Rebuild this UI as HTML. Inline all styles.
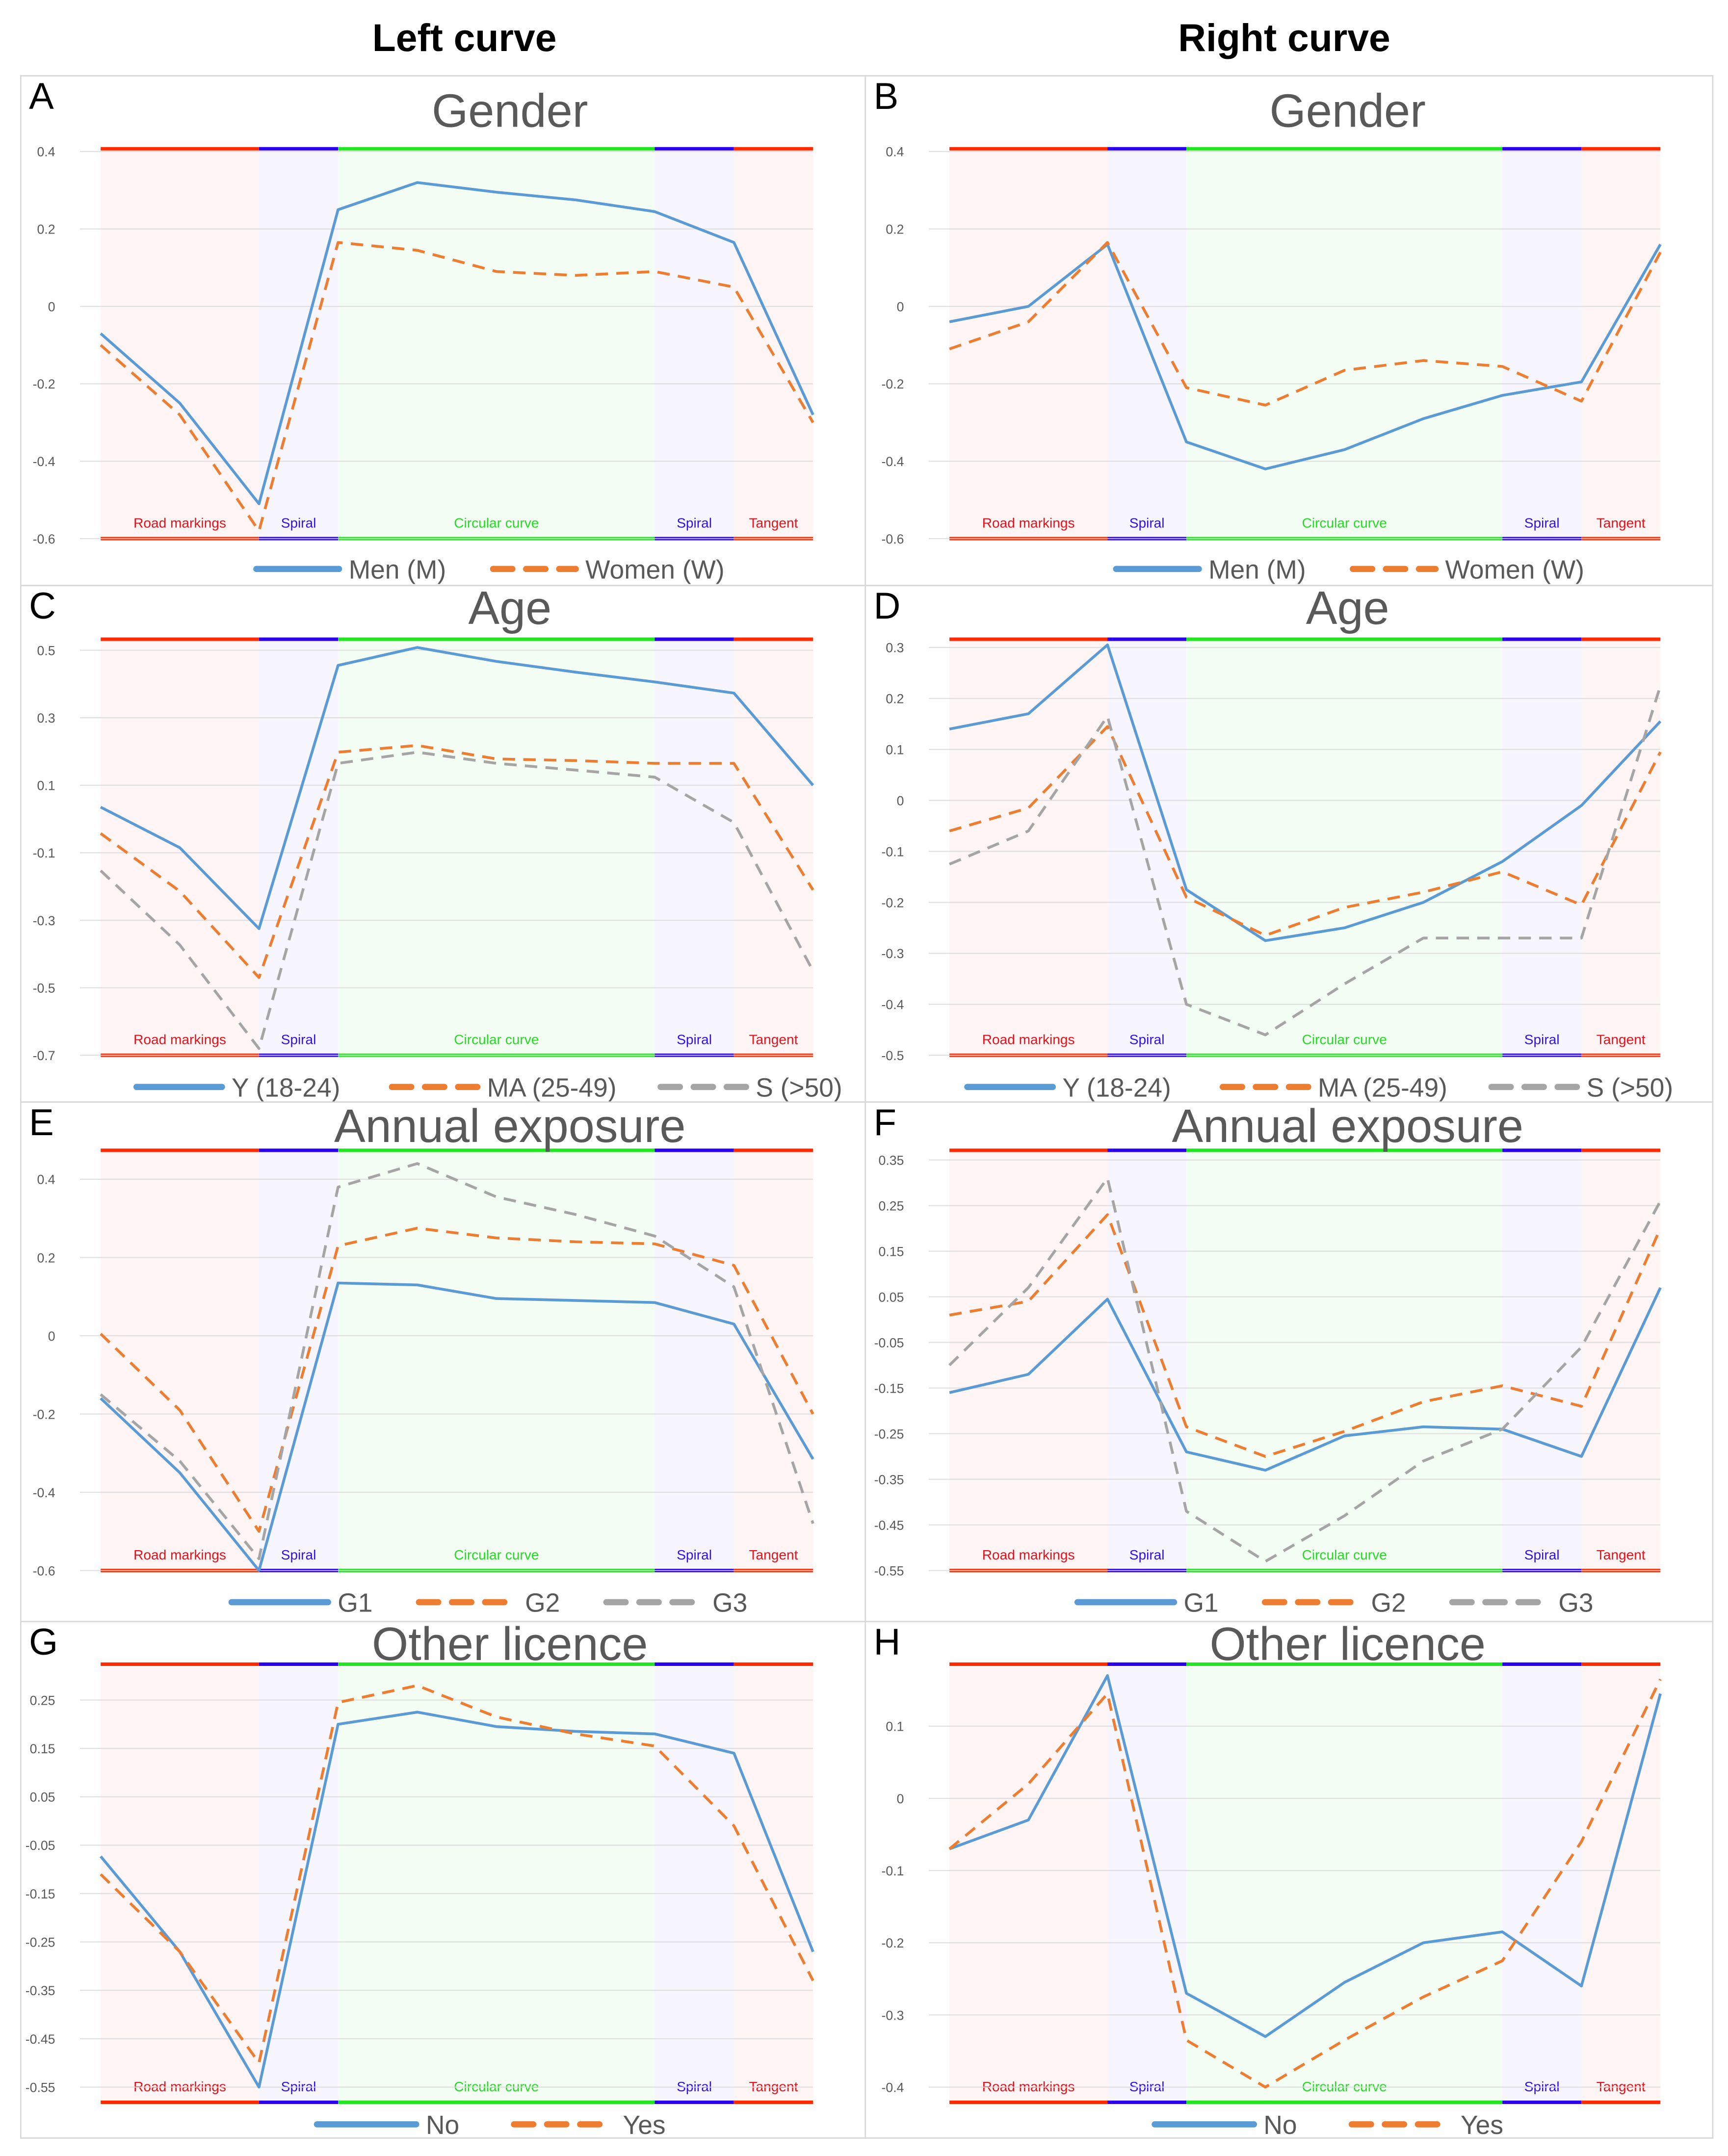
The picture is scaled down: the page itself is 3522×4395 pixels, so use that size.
<!DOCTYPE html>
<html><head><meta charset="utf-8"><style>
html,body{margin:0;padding:0;background:#fff;}
svg{display:block;font-family:"Liberation Sans","DejaVu Sans",sans-serif;}
</style></head><body>
<svg id="fig" width="3522" height="4395" viewBox="0 0 1254 1565" xmlns="http://www.w3.org/2000/svg">
<text x="337" y="37" text-anchor="middle" font-size="28" font-weight="bold">Left curve</text>
<text x="932" y="37" text-anchor="middle" font-size="28" font-weight="bold">Right curve</text>
</svg>
<script>
const NS='http://www.w3.org/2000/svg';
const svg=document.getElementById('fig');
const sectionLabels=['Road markings','Spiral','Circular curve','Spiral','Tangent'];

// Panel A
const aTicks=[0.4,0.2,0,-0.2,-0.4,-0.6];
const aMen=[-0.07,-0.25,-0.51,0.25,0.32,0.295,0.275,0.245,0.165,-0.28];
const aWomen=[-0.1,-0.28,-0.58,0.165,0.145,0.09,0.08,0.09,0.05,-0.3];
// Panel B
const bTicks=[0.4,0.2,0,-0.2,-0.4,-0.6];
const bMen=[-0.04,0,0.16,-0.35,-0.42,-0.37,-0.29,-0.23,-0.195,0.16];
const bWomen=[-0.11,-0.04,0.165,-0.21,-0.255,-0.165,-0.14,-0.155,-0.245,0.14];
// Panel C
const cTicks=[0.5,0.3,0.1,-0.1,-0.3,-0.5,-0.7];
const cY=[0.035,-0.085,-0.325,0.455,0.508,0.467,0.435,0.406,0.373,0.1];
const cMA=[-0.043,-0.214,-0.47,0.198,0.218,0.178,0.173,0.165,0.165,-0.21];
const cS=[-0.153,-0.373,-0.68,0.165,0.198,0.165,0.145,0.124,-0.01,-0.45];
// Panel D
const dTicks=[0.3,0.2,0.1,0,-0.1,-0.2,-0.3,-0.4,-0.5];
const dY=[0.14,0.17,0.305,-0.175,-0.275,-0.25,-0.2,-0.12,-0.01,0.155];
const dMA=[-0.06,-0.015,0.145,-0.19,-0.265,-0.21,-0.18,-0.14,-0.205,0.095];
const dS=[-0.125,-0.06,0.165,-0.4,-0.46,-0.36,-0.27,-0.27,-0.27,0.225];
// Panel E
const eTicks=[0.4,0.2,0,-0.2,-0.4,-0.6];
const eG1=[-0.16,-0.35,-0.6,0.135,0.13,0.095,0.09,0.085,0.03,-0.315];
const eG2=[0.005,-0.19,-0.5,0.23,0.275,0.25,0.24,0.235,0.18,-0.2];
const eG3=[-0.15,-0.32,-0.57,0.38,0.44,0.355,0.31,0.255,0.125,-0.48];
// Panel F
const fTicks=[0.35,0.25,0.15,0.05,-0.05,-0.15,-0.25,-0.35,-0.45,-0.55];
const fG1=[-0.16,-0.12,0.045,-0.29,-0.33,-0.255,-0.235,-0.24,-0.3,0.07];
const fG2=[0.01,0.04,0.23,-0.235,-0.3,-0.245,-0.18,-0.145,-0.19,0.2];
const fG3=[-0.1,0.07,0.31,-0.42,-0.53,-0.43,-0.31,-0.24,-0.06,0.26];
// Panel G
const gTicks=[0.25,0.15,0.05,-0.05,-0.15,-0.25,-0.35,-0.45,-0.55];
const gNo=[-0.073,-0.27,-0.55,0.2,0.225,0.195,0.185,0.18,0.14,-0.27];
const gYes=[-0.11,-0.27,-0.5,0.245,0.28,0.215,0.18,0.155,-0.01,-0.33];
// Panel H
const hTicks=[0.1,0,-0.1,-0.2,-0.3,-0.4];
const hNo=[-0.07,-0.03,0.17,-0.27,-0.33,-0.255,-0.2,-0.185,-0.26,0.145];
const hYes=[-0.07,0.02,0.145,-0.335,-0.4,-0.335,-0.275,-0.225,-0.06,0.165];

const BLUE='#5b9bd5',ORANGE='#ed7d31',GRAY='#a5a5a5';
function el(tag,attrs,parent){const e=document.createElementNS(NS,tag);for(const k in attrs)e.setAttribute(k,attrs[k]);(parent||svg).appendChild(e);return e;}

function panel(p){
  const g=el('g',{});
  
  
  const r=el('rect',{x:p.bx,y:p.by,width:p.bw,height:p.bh,fill:'#fff',stroke:'#d9d9d9','stroke-width':1},g);
  
  
  const L=el('text',{x:p.bx+6,y:p.by+24,'font-size':27},g);L.textContent=p.letter;
  
  
  const t0=p.ticks[0],tn=p.ticks[p.ticks.length-1];
  const ys=v=>p.yt0+(v-t0)/(tn-t0)*(p.ytn-p.yt0);
  const n=10,dx=(p.x1-p.x0)/(n-1);
  const xs=i=>p.x0+i*dx;
  const bands=[[0,2,'#fef5f4','#ff2a00'],[2,3,'#f7f6fe','#2a00ee'],[3,7,'#f4fdf4','#22e622'],[7,8,'#f7f6fe','#2a00ee'],[8,9,'#fef5f4','#ff2a00']];
  const labCol=['#e8101a','#3010f0','#22dd22','#3010f0','#e8101a'];
  bands.forEach((b,k)=>{
    const bx=xs(b[0]),bw=xs(b[1])-xs(b[0]);
    const br=el('rect',{x:bx,y:p.ytop,width:bw,height:p.ybot-p.ytop,fill:b[2]},g);
    
    
    el('line',{x1:bx,x2:bx+bw,y1:p.ytop,y2:p.ytop,stroke:b[3],'stroke-width':2.5},g);
    el('line',{x1:bx,x2:bx+bw,y1:p.ybot,y2:p.ybot,stroke:b[3],'stroke-width':2.5},g);
    const lt=el('text',{x:bx+bw/2,y:p.ybot-8,'text-anchor':'middle','font-size':10,fill:labCol[k]},g);lt.textContent=sectionLabels[k];
    
    
  });
  const T=el('text',{x:p.tx,y:p.ty,'text-anchor':'middle','font-size':34,fill:'#595959'},g);T.textContent=p.title;
  
  
  p.ticks.forEach(v=>{
    const y=ys(v);
    el('line',{x1:p.x0-15,x2:p.x1,y1:y,y2:y,stroke:'#d9d9d9','stroke-width':0.8,opacity:0.8},g);
    const tl=el('text',{x:p.x0-33,y:y+3.5,'text-anchor':'end','font-size':9.5,fill:'#595959'},g);
    tl.textContent=String(v);
    
    
  });
  const styles={solid:'',dash:'9,6'};
  p.series.forEach(s=>{
    const pts=s.vals.map((v,i)=>xs(i).toFixed(1)+','+ys(v).toFixed(1)).join(' ');
    const pl=el('polyline',{points:pts,fill:'none',stroke:s.color,'stroke-width':2,'stroke-dasharray':styles[s.style],'stroke-linejoin':'round'},g);
    
    
  });
  let lx=p.lx;const ly=p.ly;
  p.series.forEach(s=>{
    const lg=el('g',{},g);
    
    
    el('line',{x1:lx,x2:lx+p.lw,y1:ly,y2:ly,stroke:s.color,'stroke-width':4.5,'stroke-linecap':'round','stroke-dasharray':s.style==='solid'?'':'14,10'},lg);
    const tx=el('text',{x:lx+p.lw+7,y:ly+7,'font-size':19,fill:'#595959'},lg);tx.textContent=s.name;
    lx+=p.lw+7+s.name.length*p.cw+p.gap;
  });
}

const L={x0:73,x1:590,bx:15,bw:613},R={x0:689,x1:1205,bx:628,bw:615};
function mk(side,o){return Object.assign({x0:side.x0,x1:side.x1,bx:side.bx,bw:side.bw,tx:side===L?370:978},o);}

panel(mk(L,{letter:'A',title:'Gender',by:55,bh:370,ty:92,ytop:108,ybot:391,ticks:aTicks,yt0:110,ytn:391,
  series:[{name:'Men (M)',vals:aMen,color:BLUE,style:'solid'},{name:'Women (W)',vals:aWomen,color:ORANGE,style:'dash'}],lx:186,ly:413,lw:60,cw:10.4,gap:32}));
panel(mk(R,{letter:'B',title:'Gender',by:55,bh:370,ty:92,ytop:108,ybot:391,ticks:bTicks,yt0:110,ytn:391,
  series:[{name:'Men (M)',vals:bMen,color:BLUE,style:'solid'},{name:'Women (W)',vals:bWomen,color:ORANGE,style:'dash'}],lx:810,ly:413,lw:60,cw:10.4,gap:32}));
panel(mk(L,{letter:'C',title:'Age',by:425,bh:375,ty:453,ytop:464,ybot:766,ticks:cTicks,yt0:472,ytn:766,
  series:[{name:'Y (18-24)',vals:cY,color:BLUE,style:'solid'},{name:'MA (25-49)',vals:cMA,color:ORANGE,style:'dash'},{name:'S (>50)',vals:cS,color:GRAY,style:'dash'}],lx:99,ly:789,lw:62,cw:9.6,gap:30}));
panel(mk(R,{letter:'D',title:'Age',by:425,bh:375,ty:453,ytop:464,ybot:766,ticks:dTicks,yt0:470,ytn:766,
  series:[{name:'Y (18-24)',vals:dY,color:BLUE,style:'solid'},{name:'MA (25-49)',vals:dMA,color:ORANGE,style:'dash'},{name:'S (>50)',vals:dS,color:GRAY,style:'dash'}],lx:702,ly:789,lw:62,cw:9.6,gap:30}));
panel(mk(L,{letter:'E',title:'Annual exposure',by:800,bh:377,ty:829,ytop:835,ybot:1140,ticks:eTicks,yt0:856,ytn:1140,
  series:[{name:'G1',vals:eG1,color:BLUE,style:'solid'},{name:'G2',vals:eG2,color:ORANGE,style:'dash'},{name:'G3',vals:eG3,color:GRAY,style:'dash'}],lx:168,ly:1163,lw:70,cw:11,gap:37}));
panel(mk(R,{letter:'F',title:'Annual exposure',by:800,bh:377,ty:829,ytop:835,ybot:1140,ticks:fTicks,yt0:842,ytn:1140,
  series:[{name:'G1',vals:fG1,color:BLUE,style:'solid'},{name:'G2',vals:fG2,color:ORANGE,style:'dash'},{name:'G3',vals:fG3,color:GRAY,style:'dash'}],lx:782,ly:1163,lw:70,cw:11,gap:37}));
panel(mk(L,{letter:'G',title:'Other licence',by:1177,bh:375,ty:1205,ytop:1208,ybot:1526,ticks:gTicks,yt0:1234,ytn:1515,
  series:[{name:'No',vals:gNo,color:BLUE,style:'solid'},{name:'Yes',vals:gYes,color:ORANGE,style:'dash'}],lx:230,ly:1542,lw:72,cw:12,gap:40}));
panel(mk(R,{letter:'H',title:'Other licence',by:1177,bh:375,ty:1205,ytop:1208,ybot:1526,ticks:hTicks,yt0:1253,ytn:1515,
  series:[{name:'No',vals:hNo,color:BLUE,style:'solid'},{name:'Yes',vals:hYes,color:ORANGE,style:'dash'}],lx:838,ly:1542,lw:72,cw:12,gap:40}));
</script>
</body></html>
